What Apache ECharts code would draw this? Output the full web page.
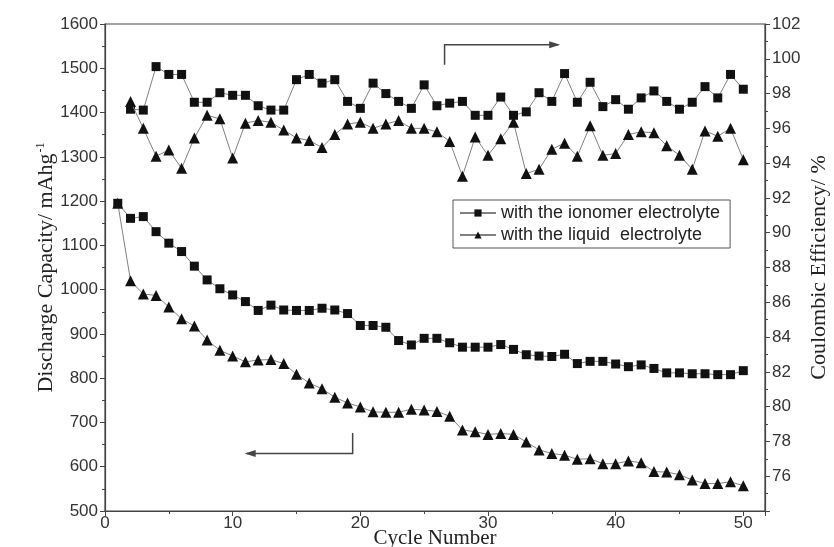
<!DOCTYPE html>
<html>
<head>
<meta charset="utf-8">
<script src="https://cdn.jsdelivr.net/npm/echarts@6/dist/echarts.min.js"></script>
<style>
  html, body { margin: 0; padding: 0; background: #fff; }
  #main { width: 834px; height: 547px; }
</style>
</head>
<body>
<div id="main"></div>
<script>
// cycle numbers
const cycles = [1, 2, 3, 4, 5, 6, 7, 8, 9, 10, 11, 12, 13, 14, 15, 16, 17, 18, 19, 20,
  21, 22, 23, 24, 25, 26, 27, 28, 29, 30, 31, 32, 33, 34, 35, 36, 37, 38, 39, 40,
  41, 42, 43, 44, 45, 46, 47, 48, 49, 50];
// coulombic efficiency starts at cycle 2
const ceCycles = cycles.slice(1);

// discharge capacity, mAh/g
const ionomerCapacity = [1195, 1161, 1165, 1131, 1105, 1086, 1053, 1022, 1002, 988,
  973, 953, 965, 954, 953, 953, 958, 954, 946, 919,
  919, 915, 885, 875, 890, 890, 880, 870, 870, 870,
  876, 865, 853, 850, 849, 854, 833, 838, 838, 832,
  826, 830, 822, 812, 812, 810, 810, 808, 808, 817];
const liquidCapacity = [1195, 1020, 990, 987, 961, 934, 918, 886, 863, 850,
  837, 841, 842, 833, 809, 789, 776, 757, 744, 735,
  724, 723, 723, 730, 728, 725, 714, 683, 679, 673,
  675, 673, 656, 638, 630, 626, 617, 618, 607, 607,
  613, 609, 589, 588, 582, 570, 562, 562, 566, 557];

// coulombic efficiency, % (cycles 2..50)
const ionomerCE = [97.1, 97.05, 99.55, 99.1, 99.1, 97.5, 97.5, 98.05, 97.9,
  97.9, 97.3, 97.05, 97.05, 98.8, 99.1, 98.6, 98.8, 97.55, 97.15,
  98.6, 98.0, 97.55, 97.15, 98.5, 97.3, 97.45, 97.55, 96.75, 96.75,
  97.8, 96.75, 96.95, 98.05, 97.55, 99.15, 97.5, 98.65, 97.25, 97.65,
  97.1, 97.75, 98.15, 97.55, 97.1, 97.5, 98.4, 97.75, 99.1, 98.25];
const liquidCE = [97.55, 96.0, 94.4, 94.75, 93.7, 95.45, 96.75, 96.55, 94.3,
  96.3, 96.45, 96.35, 95.9, 95.45, 95.3, 94.9, 95.65, 96.25, 96.35,
  96.0, 96.25, 96.45, 96.0, 96.0, 95.8, 95.25, 93.25, 95.5, 94.45,
  95.4, 96.35, 93.4, 93.65, 94.8, 95.15, 94.4, 96.15, 94.45, 94.55,
  95.65, 95.8, 95.75, 95.0, 94.45, 93.65, 95.85, 95.55, 96.0, 94.2];

const seriesNames = ['with the ionomer electrolyte', 'with the liquid  electrolyte'];

// annotation arrows, in data space: [cycle, value]
const capArrow = [[19.4, 676], [19.4, 630], [11.1, 630]];
const ceArrow = [[26.6, 99.65], [26.6, 100.8], [35.5, 100.8]];

function pairs(xs, ys) {
  return xs.map((x, i) => [x, ys[i]]);
}

const sansFont = '"Liberation Sans", Arial, sans-serif';
const serifFont = '"Liberation Serif", "Times New Roman", serif';
const axisColor = '#444';
const lineColor = '#808080';

function lineSeries(name, symbol, size, data, yIdx) {
  return {
    name: name,
    type: 'line',
    yAxisIndex: yIdx,
    data: data,
    symbol: symbol,
    symbolSize: size,
    showAllSymbol: true,
    lineStyle: { color: lineColor, width: 1 },
    itemStyle: { color: '#111' },
    emphasis: { disabled: true },
    z: symbol == 'triangle' ? 3 : 2
  };
}

const chart = echarts.init(document.getElementById('main'), null, { renderer: 'canvas' });

const tickLabel = { fontFamily: sansFont, fontSize: 17, color: '#333', margin: 7 };

const option = {
  backgroundColor: '#fff',
  animation: false,
  grid: {
    left: 105, right: 69, top: 24, bottom: 36,
    outerBoundsMode: 'none',
    show: true, borderColor: axisColor, borderWidth: 1.2, backgroundColor: 'transparent'
  },
  legend: {
    data: seriesNames,
    orient: 'vertical',
    left: 453,
    top: 200,
    itemWidth: 36,
    itemHeight: 9,
    itemGap: 4,
    padding: [4, 10, 4, 6],
    borderColor: '#555',
    borderWidth: 1,
    textStyle: { fontFamily: sansFont, fontSize: 18, color: '#222' }
  },
  xAxis: {
    type: 'value',
    min: 0,
    max: 51.7,
    interval: 10,
    name: 'Cycle Number',
    nameLocation: 'middle',
    nameGap: 17,
    nameMoveOverlap: false,
    nameTextStyle: { fontFamily: serifFont, fontSize: 21, color: '#222', verticalAlign: 'top', lineHeight: 21 },
    axisLine: { lineStyle: { color: axisColor, width: 1.2 } },
    axisTick: { inside: false, length: 5, lineStyle: { color: axisColor } },
    minorTick: { show: true, splitNumber: 2, length: 3, lineStyle: { color: axisColor } },
    axisLabel: Object.assign({}, tickLabel, { margin: 4, showMaxLabel: false }),
    splitLine: { show: false }
  },
  yAxis: [
    {
      type: 'value',
      min: 500,
      max: 1600,
      interval: 100,
      name: 'Discharge Capacity/ mAhg{sup|-1}',
      nameLocation: 'middle',
      nameRotate: 90,
      nameGap: 48,
      nameMoveOverlap: false,
      nameTextStyle: {
        fontFamily: serifFont, fontSize: 22, color: '#222',
        rich: { sup: { fontFamily: serifFont, fontSize: 12, color: '#222', verticalAlign: 'top', padding: [0, 0, 10, 1] } }
      },
      axisLine: { show: true, lineStyle: { color: axisColor, width: 1.2 } },
      axisTick: { inside: false, length: 5, lineStyle: { color: axisColor } },
      minorTick: { show: true, splitNumber: 2, length: 3, lineStyle: { color: axisColor } },
      axisLabel: Object.assign({}, tickLabel, { formatter: v => String(v) }),
      splitLine: { show: false }
    },
    {
      type: 'value',
      position: 'right',
      min: 74,
      max: 102,
      interval: 2,
      alignTicks: false,
      name: 'Coulombic Efficiency/ %',
      nameLocation: 'middle',
      nameRotate: 90,
      nameGap: 43,
      nameMoveOverlap: false,
      nameTextStyle: { fontFamily: serifFont, fontSize: 22, color: '#222' },
      axisLine: { show: true, lineStyle: { color: axisColor, width: 1.2 } },
      axisTick: { inside: false, length: 5, lineStyle: { color: axisColor } },
      minorTick: { show: true, splitNumber: 2, length: 3, lineStyle: { color: axisColor } },
      axisLabel: Object.assign({}, tickLabel, { showMinLabel: false }),
      splitLine: { show: false }
    }
  ],
  series: [
    lineSeries(seriesNames[0], 'rect', 9, pairs(cycles, ionomerCapacity), 0),
    lineSeries(seriesNames[1], 'triangle', 11, pairs(cycles, liquidCapacity), 0),
    lineSeries(seriesNames[0], 'rect', 9, pairs(ceCycles, ionomerCE), 1),
    lineSeries(seriesNames[1], 'triangle', 11, pairs(ceCycles, liquidCE), 1)
  ]
};
chart.setOption(option);

// arrows pointing to the axis each group belongs to
function arrowGraphic(points, yIdx) {
  const px = points.map(p => chart.convertToPixel({ xAxisIndex: 0, yAxisIndex: yIdx }, p));
  const a = px[px.length - 2];
  const b = px[px.length - 1];
  const dir = b[0] > a[0] ? 1 : -1;
  return [
    {
      type: 'polyline',
      shape: { points: px },
      style: { stroke: '#444', lineWidth: 1.5, fill: null }
    },
    {
      type: 'polygon',
      shape: { points: [[b[0] + dir * 2, b[1]], [b[0] - dir * 9, b[1] - 3.5], [b[0] - dir * 9, b[1] + 3.5]] },
      style: { fill: '#444' }
    }
  ];
}

chart.setOption({
  graphic: arrowGraphic(capArrow, 0).concat(arrowGraphic(ceArrow, 1))
});
</script>
</body>
</html>
